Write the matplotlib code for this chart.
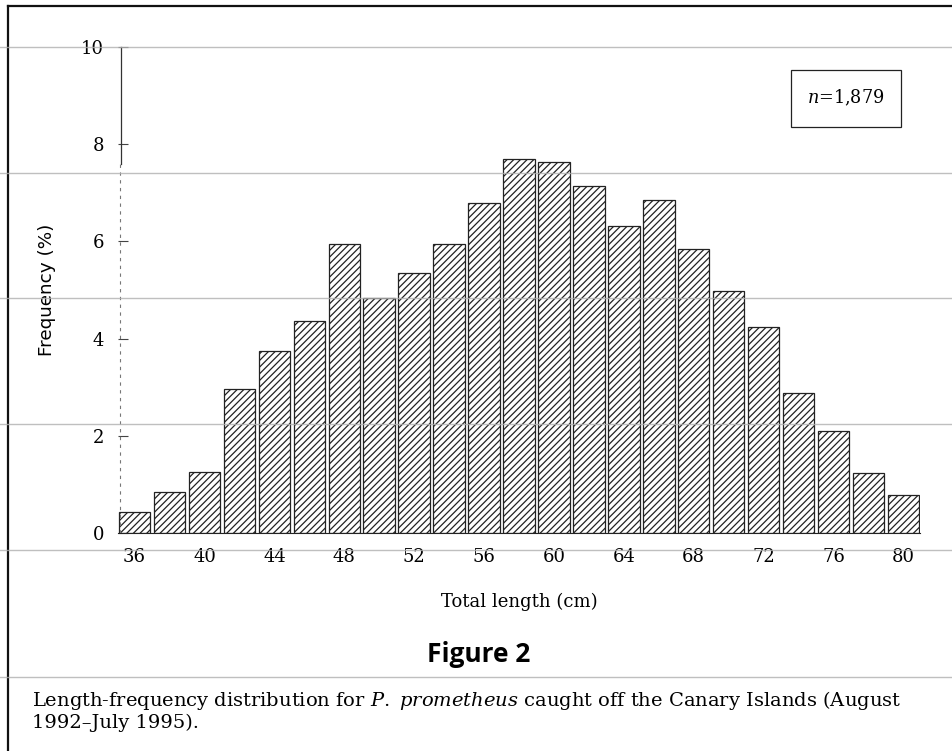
import matplotlib
matplotlib.use("Agg")
import matplotlib.pyplot as plt
from matplotlib.lines import Line2D
from matplotlib.patches import Rectangle

# length classes (cm) and frequency (%)
lengths = [36, 38, 40, 42, 44, 46, 48, 50, 52, 54, 56, 58,
           60, 62, 64, 66, 68, 70, 72, 74, 76, 78, 80]
freq = [0.43, 0.84, 1.25, 2.96, 3.74, 4.37, 5.95, 4.84, 5.34, 5.94, 6.80, 7.69,
        7.64, 7.15, 6.32, 6.85, 5.84, 4.98, 4.24, 2.88, 2.10, 1.24, 0.79]
xticks = [36, 40, 44, 48, 52, 56, 60, 64, 68, 72, 76, 80]
yticks = [0, 2, 4, 6, 8, 10]

plt.rcParams["mathtext.fontset"] = "dejavuserif"
plt.rcParams["hatch.linewidth"] = 0.9
plt.rcParams["hatch.color"] = "#444444"

W, H = 952, 751
fig = plt.figure(figsize=(W / 100, H / 100), dpi=100)

def fx(px):
    return px / W

def fy(py):
    return 1 - py / H

ax = fig.add_axes([fx(118), fy(533), fx(920) - fx(118), fy(47) - fy(533)])
ax.bar(lengths, freq, width=1.8, color="white", edgecolor="#222222",
       linewidth=0.9, hatch="/////")
ax.set_xlim(35.05, 80.95)
ax.set_ylim(0, 10)

for s in ["top", "right", "left"]:
    ax.spines[s].set_visible(False)
ax.spines["bottom"].set_linewidth(0.8)
ax.spines["bottom"].set_color("#222222")

# y axis line: solid at the top, broken lower down (as in the print)
ax.plot([35.25, 35.25], [7.6, 10], color="#333333", lw=0.9, clip_on=False)
ax.plot([35.15, 35.15], [0, 7.6], color="#777777", lw=0.8, ls=(0, (3, 4)), clip_on=False)

ax.set_yticks(yticks)
ax.set_yticklabels([str(v) for v in yticks], family="DejaVu Serif", fontsize=13)
ax.tick_params(axis="y", direction="in", length=7, width=0.8, color="#444444", pad=10)
ax.set_xticks(xticks)
ax.set_xticklabels([str(v) for v in xticks], family="DejaVu Serif", fontsize=13)
ax.tick_params(axis="x", length=0, pad=11)
for lab in ax.get_xticklabels():
    lab.set_x(lab.get_position()[0])

ax.set_ylabel("Frequency (%)", family="DejaVu Sans", fontsize=13.2)
ax.yaxis.set_label_coords((47 - 118) / 802, 0.5)
ax.yaxis.label.set_va("center")
ax.set_xlabel("Total length (cm)", family="DejaVu Serif", fontsize=13)
ax.xaxis.set_label_coords(0.5, (533 - 602) / 486)
ax.xaxis.label.set_va("center")

# sample size box
fig.patches.append(Rectangle((fx(791), fy(127)), fx(901) - fx(791), fy(70) - fy(127),
                             transform=fig.transFigure, fill=False,
                             edgecolor="#222222", lw=0.9))
fig.text(fx(846), fy(98), "$n$=1,879", family="DejaVu Serif", fontsize=12.7,
         ha="center", va="center")

fig.text(fx(479), fy(655), "Figure 2", family="Open Sans", fontweight="bold",
         fontsize=19, ha="center", va="center")
fig.text(fx(32), fy(700),
         r"Length-frequency distribution for $\mathit{P.}$ $\mathit{prometheus}$ caught off the Canary Islands (August",
         family="DejaVu Serif", fontsize=14, ha="left", va="center")
fig.text(fx(32), fy(723), "1992\u2013July 1995).", family="DejaVu Serif",
         fontsize=14, ha="left", va="center")

# page frame and scan lines
fig.add_artist(Line2D([fx(8), fx(8)], [fy(6), 0], color="#111111", lw=1.6,
                      transform=fig.transFigure))
fig.add_artist(Line2D([fx(8), 1], [fy(6), fy(6)], color="#111111", lw=1.6,
                      transform=fig.transFigure))
for py in [47, 173, 298, 424, 550, 677]:
    fig.add_artist(Line2D([0, 1], [fy(py), fy(py)], color="#b0b0b0", lw=1.0,
                          alpha=0.8, transform=fig.transFigure, zorder=10))

fig.savefig("out.png", dpi=100)
